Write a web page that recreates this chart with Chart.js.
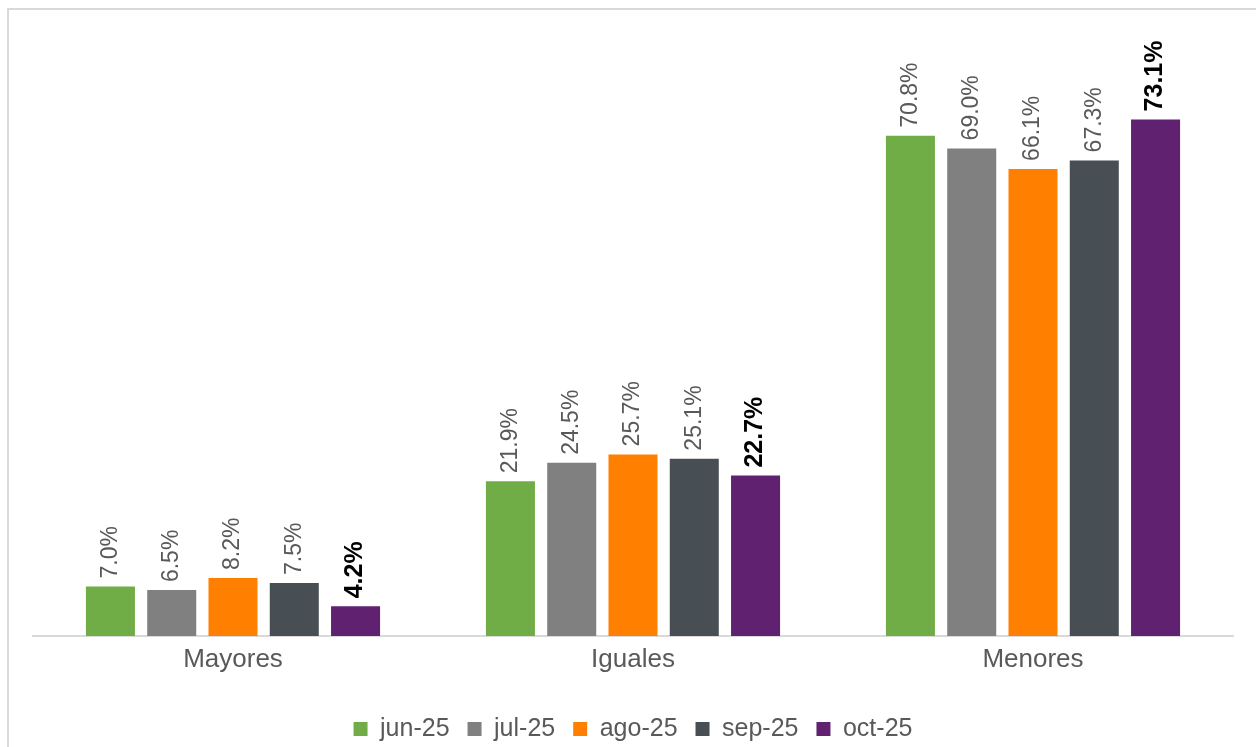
<!DOCTYPE html>
<html>
<head>
<meta charset="utf-8">
<style>
  html, body { margin: 0; padding: 0; background: #fff; overflow: hidden; }
  #wrap { position: relative; width: 1256px; height: 747px; }
</style>
<script src="https://cdn.jsdelivr.net/npm/chart.js@4.4.0/dist/chart.umd.min.js"></script>
</head>
<body>
<div id="wrap"><canvas id="myChart" width="1256" height="747"></canvas></div>
<script>
const categories = ['Mayores', 'Iguales', 'Menores'];
const seriesNames = ['jun-25', 'jul-25', 'ago-25', 'sep-25', 'oct-25'];
const jun25 = [7.0, 21.9, 70.8];
const jul25 = [6.5, 24.5, 69.0];
const ago25 = [8.2, 25.7, 66.1];
const sep25 = [7.5, 25.1, 67.3];
const oct25 = [4.2, 22.7, 73.1];
const colors = ['#70AD47', '#808080', '#FF8000', '#474F55', '#5F2170'];

const allValues = [jun25, jul25, ago25, sep25, oct25];
const FONT = '"Liberation Sans", Arial, sans-serif';

// border round the chart, like the spreadsheet frame
const framePlugin = {
    id: 'frame',
    beforeDraw(chart) {
        const c = chart.ctx;
        c.save();
        c.strokeStyle = '#d9d9d9';
        c.lineWidth = 2;
        c.strokeRect(8, 9, 1300, 800);
        c.restore();
    }
};

// value labels above bars, rotated
const labelPlugin = {
    id: 'barLabels',
    afterDatasetsDraw(chart) {
        const c = chart.ctx;
        chart.data.datasets.forEach((ds, i) => {
            const meta = chart.getDatasetMeta(i);
            const last = i === chart.data.datasets.length - 1;
            meta.data.forEach((bar, j) => {
                c.save();
                c.translate(bar.x, bar.y - 8);
                c.rotate(-Math.PI / 2);
                c.font = last ? 'bold 25px ' + FONT : '23px ' + FONT;
                c.fillStyle = last ? '#000000' : '#595959';
                c.textAlign = 'left';
                c.textBaseline = 'middle';
                c.fillText(ds.data[j].toFixed(1) + '%', 0, 0);
                c.restore();
            });
        });
    }
};

const ctx = document.getElementById('myChart');
new Chart(ctx, {
    type: 'bar',
    data: {
        labels: categories,
        datasets: seriesNames.map((name, i) => ({
            label: name,
            data: allValues[i],
            backgroundColor: colors[i],
            borderWidth: 0,
            categoryPercentage: 0.766,
            barPercentage: 0.8
        }))
    },
    options: {
        responsive: false,
        animation: false,
        layout: { padding: { left: 33, right: 23, top: 0, bottom: -4.5 } },
        plugins: {
            tooltip: { enabled: false },
            legend: {
                position: 'bottom',
                labels: {
                    boxWidth: 14,
                    boxHeight: 14,
                    padding: 18,
                    color: '#595959',
                    font: { family: FONT, size: 25 }
                }
            }
        },
        scales: {
            x: {
                grid: { display: false, drawTicks: false },
                border: { display: true, color: '#d9d9d9', width: 2 },
                ticks: {
                    padding: 8,
                    color: '#595959',
                    font: { family: FONT, size: 26 }
                },
                afterFit(scale) { scale.height = 62.5; }
            },
            y: {
                display: false,
                min: 0,
                max: 90
            }
        }
    },
    plugins: [framePlugin, labelPlugin]
});
</script>
</body>
</html>
